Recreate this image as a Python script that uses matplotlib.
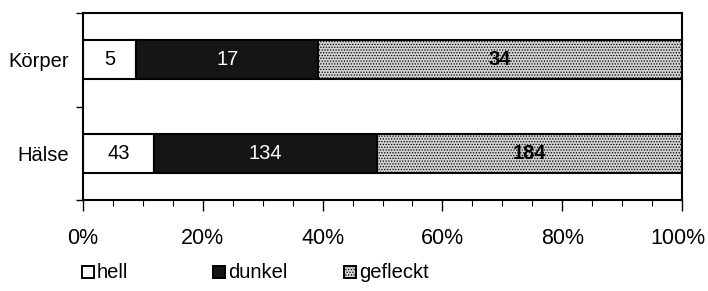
import matplotlib
matplotlib.use("Agg")
import matplotlib.pyplot as plt
import numpy as np
from matplotlib.patches import Rectangle
from matplotlib.ticker import MultipleLocator, NullFormatter

plt.rcParams['font.family'] = ['Liberation Sans', 'DejaVu Sans']
plt.rcParams['hatch.linewidth'] = 0.6
plt.rcParams['hatch.color'] = '#7a7a7a'

categories = ['Hälse', 'Körper']
series = ['hell', 'dunkel', 'gefleckt']
hell = [43, 5]
dunkel = [134, 17]
gefleckt = [184, 34]
xticks = [0, 20, 40, 60, 80, 100]
xtick_labels = ['0%', '20%', '40%', '60%', '80%', '100%']

faces = ['white', '#151515', '#d2d2d2']
hatches = [None, None, '......']
text_colors = ['black', 'white', 'black']
text_weights = ['normal', 'normal', 'bold']

W, H = 708, 291
fig = plt.figure(figsize=(W/100, H/100), dpi=100)
ax = fig.add_axes([83/W, 1 - 200/H, (682-83)/W, (200-13)/H])

data = np.array([hell, dunkel, gefleckt], dtype=float)
totals = data.sum(axis=0)
pct = data / totals * 100
y = np.arange(len(categories))
left = np.zeros(len(categories))
for i, name in enumerate(series):
    bars = ax.barh(y, pct[i], left=left, height=0.42, color=faces[i],
                   edgecolor='black', linewidth=1.5, hatch=hatches[i], label=name)
    for j, b in enumerate(bars):
        ax.text(left[j] + pct[i][j] / 2, y[j], str(int(data[i][j])),
                ha='center', va='center', color=text_colors[i],
                fontsize=14.5, fontweight=text_weights[i])
    left += pct[i]

ax.set_xlim(0, 100)
ax.set_ylim(-0.5, 1.5)
ax.set_xticks(xticks)
ax.xaxis.set_major_formatter(NullFormatter())
ax.xaxis.set_minor_locator(MultipleLocator(5))
ax.set_yticks(y)
ax.set_yticklabels(categories)
ax.set_yticks([-0.5, 0.5, 1.5], minor=True)
ax.tick_params(axis='y', which='major', length=0, pad=10, labelsize=14.5)
ax.tick_params(axis='y', which='minor', length=5, width=1, direction='out')
ax.tick_params(axis='x', which='major', length=8, width=1, direction='out')
ax.tick_params(axis='x', which='minor', length=4, width=0.8, direction='out')
for s in ax.spines.values():
    s.set_linewidth(1.5)

# x tick labels placed manually so the last one stays inside the figure
for k, (v, lab) in enumerate(zip(xticks, xtick_labels)):
    dx = -4.5 if k == len(xticks) - 1 else 0
    ax.annotate(lab, xy=(v, 0), xycoords=('data', 'axes fraction'),
                xytext=(dx * 0.72, -38 * 0.72), textcoords='offset points',
                ha='center', va='center', fontsize=15.5)

# legend drawn manually in figure pixel positions
leg_x = [82, 213, 344]
leg_y = 272
sq = 12
for i, name in enumerate(series):
    r = Rectangle(((leg_x[i]) / W, 1 - (leg_y + sq/2) / H), sq / W, sq / H,
                  transform=fig.transFigure, facecolor=faces[i], edgecolor='black',
                  linewidth=1.4, hatch=hatches[i])
    fig.add_artist(r)
    fig.text((leg_x[i] + sq + 3) / W, 1 - leg_y / H, name, ha='left', va='center',
             fontsize=14.5)

fig.savefig('out.png', dpi=100)
